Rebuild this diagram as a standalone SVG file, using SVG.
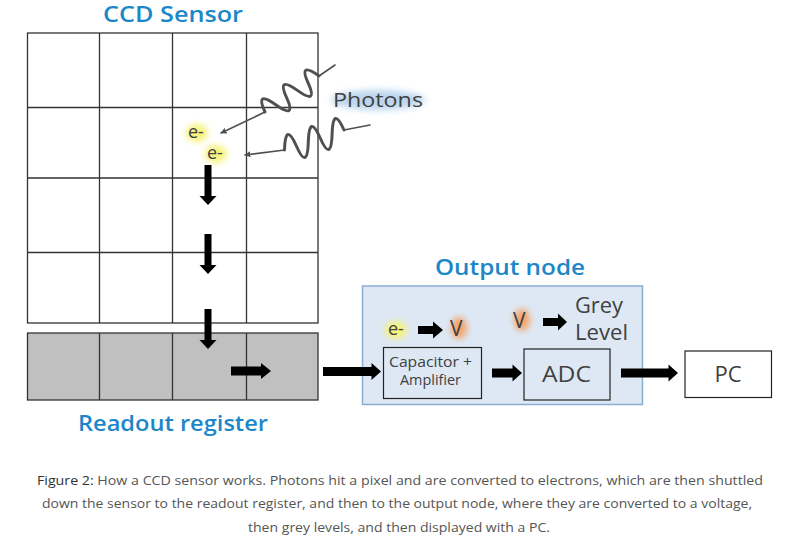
<svg xmlns="http://www.w3.org/2000/svg" width="791" height="545" viewBox="0 0 791 545">
<style>
.grid{fill:none;stroke:#333;stroke-width:1.3}
.lbl{font-family:"Open Sans","Liberation Sans",sans-serif;fill:#404040}
.title{font-family:"Open Sans","Liberation Sans",sans-serif;font-weight:600;fill:#1b87c9;text-anchor:middle}
.box{fill:none;stroke:#222;stroke-width:1.2}
.cap{font-family:"Open Sans","Liberation Sans",sans-serif;font-size:13px;fill:#555;text-anchor:middle}
.blk{fill:#000}
.wave{fill:none;stroke:#505050;stroke-width:3;stroke-linecap:round;stroke-linejoin:round}
.tail{fill:none;stroke:#505050;stroke-width:1.6;stroke-linecap:round}
</style>
<defs>
<filter id="glow" x="-50%" y="-50%" width="200%" height="200%"><feGaussianBlur stdDeviation="3"/></filter>
<marker id="ph" viewBox="0 0 10 10" refX="9" refY="5" markerWidth="6" markerHeight="6" orient="auto" markerUnits="userSpaceOnUse"><path d="M0,0 L10,5 L0,10 z" fill="#505050"/></marker>
<path id="dn" d="M-3.5,0 H3.5 V31 H8.5 L0,40 L-8.5,31 H-3.5 Z"/>
</defs>

<g id="ccd-sensor">
<text class="title" x="173" y="22" font-size="21" textLength="140" lengthAdjust="spacingAndGlyphs">CCD Sensor</text>
<rect class="grid" x="27.5" y="33" width="290.5" height="290"/>
<path class="grid" d="M99.5,33 V323 M172.5,33 V323 M246.5,33 V323 M27.5,107.5 H318 M27.5,178 H318 M27.5,252.5 H318"/>
</g>

<g id="readout-register">
<rect x="27.5" y="333" width="290.5" height="67" fill="#c0c0c0" stroke="#333" stroke-width="1.3"/>
<path class="grid" d="M99.5,333 V400 M172.5,333 V400 M246.5,333 V400"/>
<text class="title" x="173" y="431" font-size="22" textLength="190" lengthAdjust="spacingAndGlyphs">Readout register</text>
</g>

<g id="photons">
<ellipse cx="378" cy="100" rx="47" ry="10" fill="#bcd6ee" filter="url(#glow)"/>
<text class="lbl" x="333" y="107" font-size="20" textLength="90" lengthAdjust="spacingAndGlyphs">Photons</text>
<ellipse cx="197" cy="133" rx="11" ry="9" fill="#f6f37a" filter="url(#glow)"/>
<text class="lbl" x="188" y="138" font-size="18">e-</text>
<ellipse cx="216" cy="154" rx="11" ry="9" fill="#f6f37a" filter="url(#glow)"/>
<text class="lbl" x="207" y="159" font-size="18">e-</text>
</g>

<g id="output-node">
<text class="title" x="510" y="275" font-size="21" textLength="150" lengthAdjust="spacingAndGlyphs">Output node</text>
<rect x="362.5" y="286" width="280" height="118.5" fill="#dde8f4" stroke="#8aaed2" stroke-width="1.5"/>
<ellipse cx="396" cy="330" rx="11" ry="9" fill="#f6f37a" filter="url(#glow)"/>
<text class="lbl" x="388" y="335" font-size="18">e-</text>
<ellipse cx="459" cy="328" rx="8" ry="11" fill="#f4a46a" filter="url(#glow)"/>
<text class="lbl" x="450" y="336" font-size="21" fill="#6a4030">V</text>
<ellipse cx="522" cy="320" rx="8" ry="11" fill="#f4a46a" filter="url(#glow)"/>
<text class="lbl" x="513" y="328" font-size="21" fill="#6a4030">V</text>
<text class="lbl" x="575" y="313" font-size="21" textLength="48" lengthAdjust="spacingAndGlyphs">Grey</text>
<text class="lbl" x="575" y="340" font-size="21" textLength="53" lengthAdjust="spacingAndGlyphs">Level</text>
</g>

<g id="capacitor-amplifier">
<rect class="box" x="383.5" y="347.5" width="98" height="51"/>
<text class="lbl" x="389" y="367" font-size="14" textLength="83" lengthAdjust="spacingAndGlyphs">Capacitor +</text>
<text class="lbl" x="400" y="385" font-size="14" textLength="61" lengthAdjust="spacingAndGlyphs">Amplifier</text>
</g>

<g id="adc">
<rect class="box" x="524" y="349" width="86" height="51"/>
<text class="lbl" x="542" y="382" font-size="22" textLength="49" lengthAdjust="spacingAndGlyphs">ADC</text>
</g>

<g id="pc">
<rect class="box" x="685" y="351" width="86.5" height="46.5" fill="#fff"/>
<text class="lbl" x="728" y="382" font-size="22" text-anchor="middle">PC</text>
</g>

<g id="connectors">
<!-- photon wave 1 -->
<path class="tail" d="M335,65 L319,76"/>
<path class="wave" d="M319,76 Q298,61 308.2,83.2 T297.4,90.4 T286.6,97.6 T275.8,104.8 T265,112"/>
<path class="tail" d="M265,112 L221,133" marker-end="url(#ph)"/>
<!-- photon wave 2 -->
<path class="tail" d="M370,125 L344,130"/>
<path class="wave" d="M344,130 Q333,105 332.1,134 T320.2,138 T308.3,142 T296.4,146 T284.5,150"/>
<path class="tail" d="M284.5,150 L245,155" marker-end="url(#ph)"/>
<!-- shift arrows down -->
<use href="#dn" x="208" y="165" class="blk"/>
<use href="#dn" x="208" y="234" class="blk"/>
<use href="#dn" x="208" y="309" class="blk"/>
<!-- right arrows -->
<path class="blk" d="M231,366.5 H261 V363 L271,371 L261,379 V375.5 H231 Z"/>
<path class="blk" d="M323,367 H371.5 V363 L381,371.5 L371.5,380 V376 H323 Z"/>
<path class="blk" d="M492,368.5 H512.5 V364.5 L522,373 L512.5,381.5 V377.5 H492 Z"/>
<path class="blk" d="M621,368.5 H668.5 V364.5 L678,373 L668.5,381.5 V377.5 H621 Z"/>
<path class="blk" d="M418,326 H433 V321.5 L443,330 L433,338.5 V334 H418 Z"/>
<path class="blk" d="M543,318 H558 V313.5 L567,322 L558,330.5 V326 H543 Z"/>
</g>

<g id="caption">
<text class="cap" x="400" y="485" textLength="726" lengthAdjust="spacingAndGlyphs"><tspan fill="#333">Figure 2:</tspan> How a CCD sensor works. Photons hit a pixel and are converted to electrons, which are then shuttled</text>
<text class="cap" x="397" y="508" textLength="710" lengthAdjust="spacingAndGlyphs">down the sensor to the readout register, and then to the output node, where they are converted to a voltage,</text>
<text class="cap" x="399" y="532" textLength="302" lengthAdjust="spacingAndGlyphs">then grey levels, and then displayed with a PC.</text>
</g>
</svg>
